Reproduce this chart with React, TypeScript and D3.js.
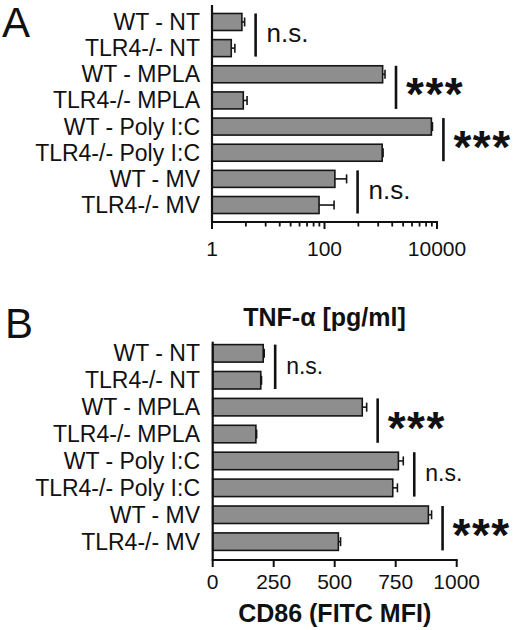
import React from 'react';
import * as d3 from 'd3';

// groups shown on both panels, top to bottom
const categories = [
  'WT - NT',
  'TLR4-/- NT',
  'WT - MPLA',
  'TLR4-/- MPLA',
  'WT - Poly I:C',
  'TLR4-/- Poly I:C',
  'WT - MV',
  'TLR4-/- MV',
];

// panel A: TNF-a [pg/ml], log axis
const tnfMean = [3.4, 2.2, 1080, 3.6, 7950, 1060, 153, 80];
const tnfSem = [0.4, 0.35, 110, 0.6, 340, 40, 94, 68];
const tnfSig = ['n.s.', '***', '***', 'n.s.'];
const tnfTicks = [1, 100, 10000];

// panel B: CD86 (FITC MFI), linear axis
const cd86Mean = [207, 197, 613, 177, 761, 738, 884, 515];
const cd86Sem = [4, 3, 18, 3, 20, 19, 13, 9];
const cd86Sig = ['n.s.', '***', 'n.s.', '***'];
const cd86Ticks = [0, 250, 500, 750, 1000];

const FONT = '"Liberation Sans", Arial, Helvetica, sans-serif';

interface PanelProps {
  means: number[];
  sems: number[];
  sig: string[];
  x: any;
  bandTop: number;
  bandBottom: number;
  axisTop: number;
  axisY: number;
  majorTicks: number[];
  minorTicks: number[];
  tickLabelY: number;
  nsSize: number;
}

function Panel({ means, sems, sig, x, bandTop, bandBottom, axisTop, axisY, majorTicks, minorTicks, tickLabelY, nsSize }: PanelProps) {
  const y = d3.scaleBand<string>()
    .domain(categories)
    .range([bandTop, bandBottom])
    .paddingInner(0.35)
    .paddingOuter(0.175);
  const [x0, x1] = x.range();
  const bh = y.bandwidth();

  return (
    <g>
      {/* category labels */}
      {categories.map(c => (
        <text key={c} x={200} y={(y(c) as number) + bh / 2 + 8} textAnchor="end"
          fontSize={23} fontFamily={FONT} fill="#111">{c}</text>
      ))}

      {/* bars */}
      {categories.map((c, i) => (
        <rect key={c} x={x0} y={y(c)} width={x(means[i]) - x0} height={bh}
          fill="#8e8e8e" stroke="#151515" strokeWidth={1.6} />
      ))}

      {/* error bars */}
      {categories.map((c, i) => {
        const cy = (y(c) as number) + bh / 2;
        const xe = x(means[i] + sems[i]);
        return (
          <g key={c} stroke="#151515" strokeWidth={1.6}>
            <line x1={x(means[i])} x2={xe} y1={cy} y2={cy} />
            <line x1={xe} x2={xe} y1={cy - 4.5} y2={cy + 4.5} />
          </g>
        );
      })}

      {/* axes */}
      <line x1={x0} x2={x0} y1={axisTop} y2={axisY} stroke="#111" strokeWidth={2.2} />
      <line x1={x0 - 1} x2={x1 + 1} y1={axisY} y2={axisY} stroke="#111" strokeWidth={2.2} />
      {majorTicks.map(t => (
        <g key={'M' + t}>
          <line x1={x(t)} x2={x(t)} y1={axisY} y2={axisY + 7} stroke="#111" strokeWidth={2} />
          <text x={x(t)} y={tickLabelY} textAnchor="middle" fontSize={21} fontFamily={FONT} fill="#111">{t}</text>
        </g>
      ))}
      {minorTicks.map(t => (
        <line key={'m' + t} x1={x(t)} x2={x(t)} y1={axisY} y2={axisY + 4.5} stroke="#111" strokeWidth={1.8} />
      ))}

      {/* significance */}
      {sig.map((s, k) => {
        const a = categories[2 * k];
        const b = categories[2 * k + 1];
        const lx = Math.max(x(means[2 * k] + sems[2 * k]), x(means[2 * k + 1] + sems[2 * k + 1])) + 11;
        const top = y(a) as number;
        const bot = (y(b) as number) + bh;
        const mid = (top + bot) / 2;
        return (
          <g key={k}>
            <line x1={lx} x2={lx} y1={top} y2={bot} stroke="#111" strokeWidth={2.6} />
            {s === 'n.s.' ? (
              <text x={lx + 11} y={mid + 7} fontSize={nsSize} fontFamily={FONT} fill="#111">{s}</text>
            ) : (
              <text x={lx + 10} y={mid + 23} fontSize={46} fontWeight="bold" fontFamily={FONT}
                letterSpacing={1.5} fill="#111">{s}</text>
            )}
          </g>
        );
      })}
    </g>
  );
}

export default function App() {
  const xA = d3.scaleLog().domain([1, 10000]).range([212, 437]);
  const xB = d3.scaleLinear().domain([0, 1000]).range([212.7, 456.7]);

  // minor ticks of the log axis: GraphPad puts 8 of them between each labelled power of 100
  const minorA: number[] = [];
  tnfTicks.slice(0, -1).forEach(m => {
    for (let k = 2; k <= 9; k++) minorA.push(m * k * k);
  });

  return (
    <div style={{ position: 'absolute', left: 0, top: 0 }}>
      <svg width={520} height={630} style={{ display: 'block', background: '#fff' }}>
        <text x={2} y={37} fontSize={42} fontFamily={FONT} fill="#111">A</text>
        <text x={5} y={338} fontSize={42} fontFamily={FONT} fill="#111">B</text>

        <Panel means={tnfMean} sems={tnfSem} sig={tnfSig} x={xA}
          bandTop={8.9} bandBottom={218.1} axisTop={5} axisY={222}
          majorTicks={tnfTicks} minorTicks={minorA} tickLabelY={255.5} nsSize={26} />

        <text x={324.5} y={326} textAnchor="middle" fontSize={25} fontWeight="bold" fontFamily={FONT} fill="#111">
          TNF-α [pg/ml]
        </text>

        <Panel means={cd86Mean} sems={cd86Sem} sig={cd86Sig} x={xB}
          bandTop={339.9} bandBottom={555.1} axisTop={341.7} axisY={560}
          majorTicks={cd86Ticks} minorTicks={[]} tickLabelY={588.5} nsSize={23} />

        <text x={334.7} y={621.5} textAnchor="middle" fontSize={25} fontWeight="bold" fontFamily={FONT} fill="#111">
          CD86 (FITC MFI)
        </text>
      </svg>
    </div>
  );
}
